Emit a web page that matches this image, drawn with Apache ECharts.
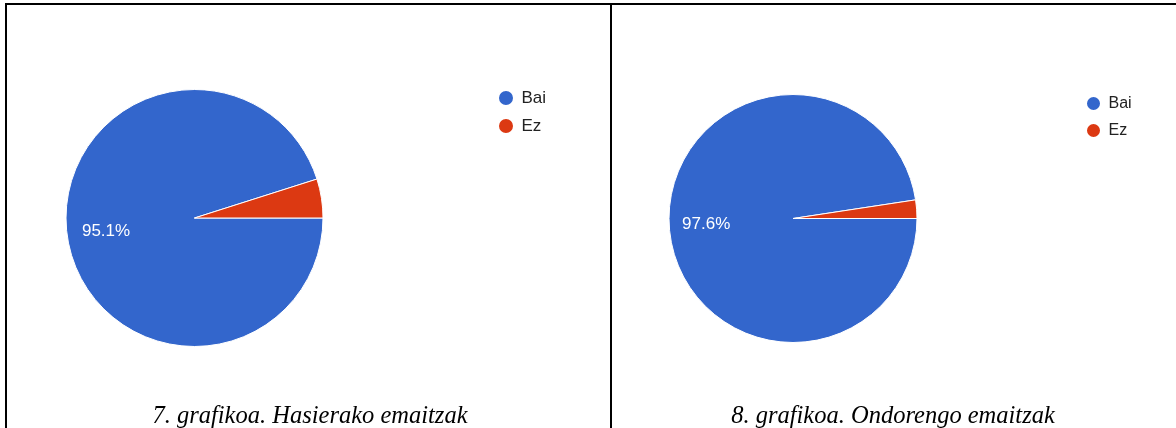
<!DOCTYPE html>
<html>
<head>
<meta charset="utf-8">
<script src="https://cdn.jsdelivr.net/npm/echarts@6/dist/echarts.min.js"></script>
<style>
html,body{margin:0;padding:0;background:#fff;}
#c{width:1176px;height:428px;}
</style>
</head>
<body>
<div id="c"></div>
<script>
const categories = ['Bai', 'Ez'];
const initialValues = [95.1, 4.9];
const laterValues = [97.6, 2.4];
const captions = ['7. grafikoa. Hasierako emaitzak', '8. grafikoa. Ondorengo emaitzak'];
const colors = ['#3366cc', '#dc3912'];

function pieData(values) {
  return categories.map((name, i) => ({
    name: name,
    value: values[i],
    label: { show: i === 0 }
  }));
}

const chart = echarts.init(document.getElementById('c'), null, { renderer: 'canvas' });

function pieSeries(values, center, radius, fontSize, dx, dy) {
  return {
    type: 'pie',
    center: center,
    radius: radius,
    startAngle: 0,
    clockwise: true,
    percentPrecision: 1,
    avoidLabelOverlap: false,
    data: pieData(values),
    itemStyle: { borderColor: '#fff', borderWidth: 1 },
    label: {
      position: 'inside',
      formatter: '{d}%',
      color: '#fff',
      fontFamily: 'Liberation Sans, Arial, sans-serif',
      fontSize: fontSize
    },
    labelLayout: { dx: dx, dy: dy },
    labelLine: { show: false },
    emphasis: { disabled: true },
    silent: true
  };
}

const captionStyle = { fontFamily: 'Liberation Serif, Times New Roman, serif', fontStyle: 'italic', fontWeight: 'normal', fontSize: 24.5, color: '#000' };

chart.setOption({
  animation: false,
  color: colors,
  title: [
    { text: captions[0], left: 310, top: 404, padding: 0, textAlign: 'center', textStyle: captionStyle },
    { text: captions[1], left: 893, top: 404, padding: 0, textAlign: 'center', textStyle: captionStyle }
  ],
  legend: [
    {
      seriesIndex: 0, data: categories, orient: 'vertical', left: 497, top: 89, padding: 0,
      icon: 'circle', itemWidth: 21, itemHeight: 16, itemGap: 10, selectedMode: false,
      textStyle: { fontFamily: 'Liberation Sans, Arial, sans-serif', fontSize: 17, color: '#222' }
    },
    {
      seriesIndex: 1, data: categories, orient: 'vertical', left: 1085, top: 95, padding: 0,
      icon: 'circle', itemWidth: 20, itemHeight: 15, itemGap: 10, selectedMode: false,
      textStyle: { fontFamily: 'Liberation Sans, Arial, sans-serif', fontSize: 16, color: '#222' }
    }
  ],
  series: [
    pieSeries(initialValues, [194.5, 218], 128.5, 17, -22, 3),
    pieSeries(laterValues, [793, 218.5], 124, 17, -22, 1)
  ],
  graphic: [
    { type: 'rect', shape: { x: 5, y: 3, width: 1171, height: 2 }, style: { fill: '#000' }, silent: true },
    { type: 'rect', shape: { x: 5, y: 3, width: 2, height: 425 }, style: { fill: '#000' }, silent: true },
    { type: 'rect', shape: { x: 610, y: 3, width: 2, height: 425 }, style: { fill: '#000' }, silent: true }
  ]
});
</script>
</body>
</html>
